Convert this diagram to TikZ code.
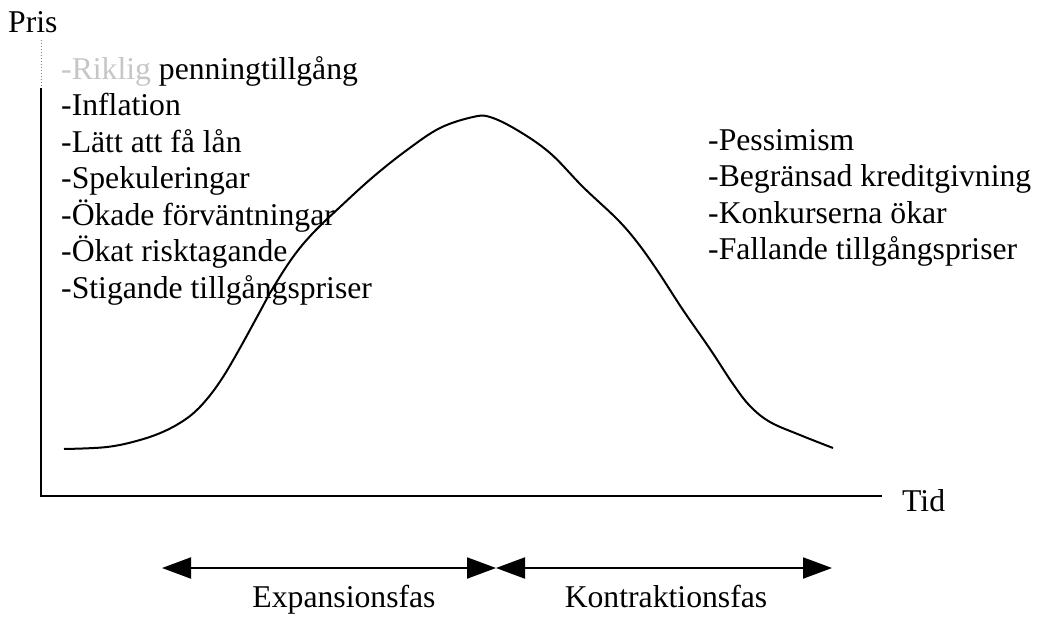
\documentclass[tikz,border=0pt]{standalone}
\usepackage{fontspec}
\setmainfont{Liberation Serif}
\usetikzlibrary{arrows.meta}
\tikzset{
  lbl/.style={anchor=base west, inner sep=0pt, font=\fontsize{31.7}{36.5}\selectfont},
  ctr/.style={anchor=base, inner sep=0pt, font=\fontsize{31.7}{36.5}\selectfont},
  axis/.style={line width=2.2pt},
  curve/.style={line width=2pt},
  phase/.style={line width=2pt, {Triangle[length=29pt,width=21pt]}-{Triangle[length=29pt,width=21pt]}}
}
\begin{document}
\begin{tikzpicture}[x=1pt,y=-1pt]
\useasboundingbox (0,0) rectangle (1039,616);
% axes
\coordinate (ytop) at (41,40);
\coordinate (ymid) at (41,88);
\coordinate (orig) at (41,496);
\coordinate (xend) at (882,496);
\draw[line width=1pt, dotted, gray] (ytop) -- (ymid);
\draw[axis] (ymid) -- (orig) -- (xend);
\node[lbl] (pris) at (8,32) {Pris};
\node[lbl] (tid) at (902,511) {Tid};
% curve
\draw[curve] plot[smooth, tension=0.6] coordinates {
 (64,449) (107,447) (140,440) (167,430) (190,416) (207,399) (223,377)
 (240,348) (257,317) (273,288) (293,257) (313,233) (340,207) (373,177)
 (407,150) (440,128) (473,117) (490,117) (517,130) (550,153)
 (583,187) (617,219) (637,242) (657,270) (683,310) (710,349) (733,384)
 (750,406) (770,422) (800,435) (833,448)};
% left list
\node[lbl] (l1) at (61,79) {\textcolor{gray!45}{-Riklig} penningtillgång};
\node[lbl] (l2) at (61,115.5) {-Inflation};
\node[lbl] (l3) at (61,152) {-Lätt att få lån};
\node[lbl] (l4) at (61,188.5) {-Spekuleringar};
\node[lbl] (l5) at (61,225) {-Ökade förväntningar};
\node[lbl] (l6) at (61,261.5) {-Ökat risktagande};
\node[lbl] (l7) at (61,298) {-Stigande tillgångspriser};
% right list
\node[lbl] (r1) at (708,150) {-Pessimism};
\node[lbl] (r2) at (708,186.5) {-Begränsad kreditgivning};
\node[lbl] (r3) at (708,223) {-Konkurserna ökar};
\node[lbl] (r4) at (708,259.5) {-Fallande tillgångspriser};
% phases
\coordinate (a1) at (162,568);
\coordinate (a2) at (496,568);
\coordinate (a3) at (832,568);
\draw[phase] (a1) -- (a2);
\draw[phase] (a2) -- (a3);
\node[ctr] (exp) at (344,607) {Expansionsfas};
\node[ctr] (kon) at (666,607) {Kontraktionsfas};
\end{tikzpicture}
\end{document}
